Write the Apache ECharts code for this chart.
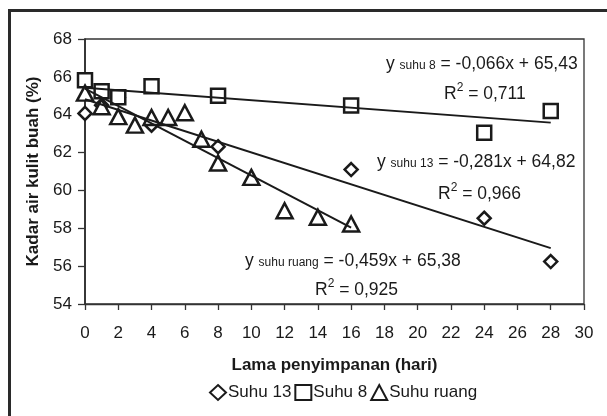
<!DOCTYPE html>
<html>
<head>
<meta charset="utf-8">
<script src="https://cdn.jsdelivr.net/npm/echarts@6/dist/echarts.min.js"></script>
<style>
html,body{margin:0;padding:0;background:#fff;}
#chart{width:607px;height:416px;}
</style>
</head>
<body>
<div id="chart"></div>
<script>
// ---- data ----
const seriesNames = ['Suhu 13', 'Suhu 8', 'Suhu ruang'];
const suhu13X = [0, 1, 2, 4, 8, 16, 24, 28];
const suhu13Y = [64.07, 64.5, 64.9, 63.45, 62.31, 61.1, 58.53, 56.24];
const suhu8X = [0, 1, 2, 4, 8, 16, 24, 28];
const suhu8Y = [65.82, 65.24, 64.92, 65.51, 65.0, 64.49, 63.05, 64.19];
const ruangX = [0, 1, 2, 3, 4, 5, 6, 7, 8, 10, 12, 14, 16];
const ruangY = [65.14, 64.42, 63.9, 63.45, 63.85, 63.85, 64.1, 62.7, 61.45, 60.69, 58.93, 58.58, 58.23];
// trendline coefficients shown on the chart: slope, intercept, x range
const trendSlope = [-0.281, -0.066, -0.459];
const trendIntercept = [64.82, 65.43, 65.38];
const trendXStart = [0, 0, 0];
const trendXEnd = [28, 28, 16];
const xTicks = {min: 0, max: 30, interval: 2};
const yTicks = {min: 54, max: 68, interval: 2};
// equation labels
const eqSub = ['suhu 13', 'suhu 8', 'suhu ruang'];
const eqRest = [' = -0,281x + 64,82', ' = -0,066x + 65,43', ' = -0,459x + 65,38'];
const r2Values = ['0,966', '0,711', '0,925'];

function pairs(xs, ys) { return xs.map((x, i) => [x, ys[i]]); }
function trend(i) {
  return [trendXStart[i], trendXEnd[i]].map(x => [x, +(trendSlope[i] * x + trendIntercept[i]).toFixed(4)]);
}

const FONT = "'Liberation Sans', Arial, sans-serif";
const INK = '#1a1a1a';
const symbols = ['diamond', 'rect', 'triangle'];
const symbolSizes = [[13, 13], [14, 14], [16, 15]];
const scatterData = [pairs(suhu13X, suhu13Y), pairs(suhu8X, suhu8Y), pairs(ruangX, ruangY)];

const series = [];
seriesNames.forEach((n, i) => {
  series.push({
    name: n, type: 'scatter', data: scatterData[i],
    symbol: symbols[i], symbolSize: symbolSizes[i],
    itemStyle: {color: '#fff', borderColor: INK, borderWidth: 2.5, opacity: 1},
    z: 3, animation: false
  });
});
seriesNames.forEach((n, i) => {
  series.push({
    name: 'trend ' + n, type: 'line', data: trend(i),
    symbol: 'none', lineStyle: {color: INK, width: 2}, z: 4, animation: false, silent: true
  });
});

// positions of the equation labels (pixels)
const eqPos = [[377, 153], [386, 55], [245, 252]];
const r2Pos = [[438, 182], [444, 82], [315, 278]];

const baseRich = {
  a: {fontSize: 17.5, fontFamily: FONT, fill: INK, color: INK, lineHeight: 21, verticalAlign: 'bottom'},
  s: {fontSize: 12, fontFamily: FONT, fill: INK, color: INK, lineHeight: 21, verticalAlign: 'bottom', padding: [0, 0, 1, 0]},
  p: {fontSize: 12, fontFamily: FONT, fill: INK, color: INK, lineHeight: 21, verticalAlign: 'top'}
};

const graphics = [
  {type: 'rect', shape: {x: 9.5, y: 10.5, width: 800, height: 800}, style: {fill: 'none', stroke: '#2a2a2a', lineWidth: 3}, z: 0, silent: true}
];
for (let i = 0; i < 3; i++) {
  graphics.push({
    type: 'text', left: eqPos[i][0], top: eqPos[i][1], z: 10,
    style: {text: '{a|y }{s|' + eqSub[i] + '}{a|' + eqRest[i] + '}', rich: baseRich, fill: INK, font: '17px ' + FONT}
  });
  graphics.push({
    type: 'text', left: r2Pos[i][0], top: r2Pos[i][1], z: 10,
    style: {text: '{a|R}{p|2}{a| = ' + r2Values[i] + '}', rich: baseRich, fill: INK, font: '17px ' + FONT}
  });
}

const chart = echarts.init(document.getElementById('chart'), null, {renderer: 'canvas'});
chart.setOption({
  backgroundColor: '#fff',
  animation: false,
  textStyle: {fontFamily: FONT},
  grid: {left: 85, right: 23, top: 39, bottom: 112, show: true, borderColor: '#333', borderWidth: 1.3, backgroundColor: 'transparent'},
  legend: {
    data: seriesNames, top: 379, left: 204,
    itemWidth: 16, itemHeight: 15, itemGap: 3,
    textStyle: {fontSize: 17, color: INK, fontFamily: FONT, padding: [0, 0, 0, -3]}
  },
  xAxis: {
    type: 'value', min: xTicks.min, max: xTicks.max, interval: xTicks.interval,
    name: 'Lama penyimpanan (hari)', nameLocation: 'middle', nameGap: 53,
    nameTextStyle: {fontSize: 17, fontWeight: 'bold', color: INK, fontFamily: FONT},
    axisLine: {show: true, lineStyle: {color: '#333', width: 1.3}},
    axisTick: {show: true, inside: false, length: 6, lineStyle: {color: '#333', width: 1.3}},
    axisLabel: {fontSize: 17, color: INK, margin: 21, fontFamily: FONT},
    splitLine: {show: false}
  },
  yAxis: {
    type: 'value', min: yTicks.min, max: yTicks.max, interval: yTicks.interval,
    name: 'Kadar air kulit buah (%)', nameLocation: 'middle', nameGap: 43, nameRotate: 90,
    nameTextStyle: {fontSize: 17, fontWeight: 'bold', color: INK, fontFamily: FONT},
    axisLine: {show: true, lineStyle: {color: '#222', width: 1.5}},
    axisTick: {show: true, inside: false, length: 7, lineStyle: {color: '#333', width: 1.3}},
    axisLabel: {fontSize: 17, color: INK, margin: 13, fontFamily: FONT},
    splitLine: {show: false}
  },
  graphic: graphics,
  series: series
});
</script>
</body>
</html>
